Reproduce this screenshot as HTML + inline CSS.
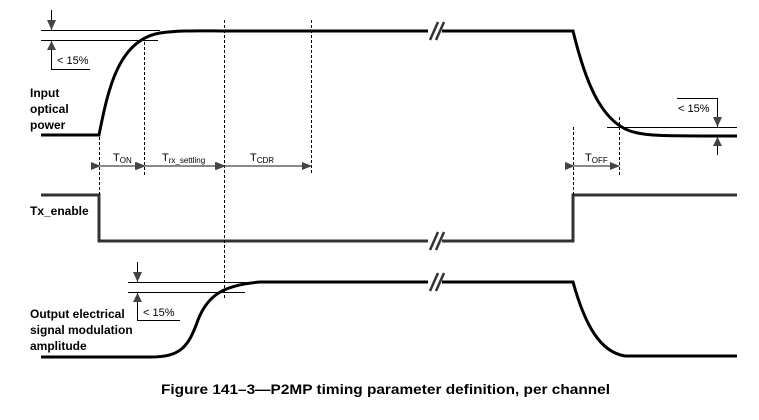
<!DOCTYPE html>
<html><head><meta charset="utf-8"><style>
html,body{margin:0;padding:0;background:#fff;}
svg{display:block;}
text{font-family:"Liberation Sans",Arial,sans-serif;}
</style></head><body>
<svg width="759" height="420" viewBox="0 0 759 420" xmlns="http://www.w3.org/2000/svg">
<defs>
<marker id="ah" markerWidth="10" markerHeight="8" refX="9" refY="4" orient="auto" markerUnits="userSpaceOnUse">
<path d="M0,0 L10,4 L0,8 Z" fill="#444"/></marker>
</defs>
<g fill="none" stroke="#000" stroke-width="3">
<path d="M41,135 L99,135 C108,90 118,40 160,33 C180,30 200,31 230,31 L428,31"/>
<path d="M442,31 L573,31 C585,80 600,120 630,131 C645,136 660,136 737,136"/>
<path d="M41,357 L150,357 C180,357 188,348 198,320 C208,294 225,285 260,282 L428,282"/>
<path d="M442,282 L573,282 C585,325 600,352 625,356 L737,356"/>
</g>
<g fill="none" stroke="#333" stroke-width="3">
<path d="M41,195 L99,195 L99,241 L428,241"/>
<path d="M442,241 L573,241 L573,195 L737,195"/>
</g>
<g stroke="#333" stroke-width="2.5">
<line x1="430" y1="40" x2="438" y2="22"/><line x1="436" y1="40" x2="444" y2="22"/>
<line x1="430" y1="250" x2="438" y2="232"/><line x1="436" y1="250" x2="444" y2="232"/>
<line x1="430" y1="291" x2="438" y2="273"/><line x1="436" y1="291" x2="444" y2="273"/>
</g>
<g stroke="#000" stroke-width="1" fill="none">
<line x1="41" y1="30.5" x2="160" y2="30.5"/>
<line x1="41" y1="40.5" x2="158" y2="40.5"/>
<path d="M51.5,40 L51.5,69.5 L90,69.5"/>
<line x1="607" y1="127.5" x2="737" y2="127.5"/>
<path d="M677,98.5 L717.5,98.5 L717.5,127"/>
<line x1="717.5" y1="137" x2="717.5" y2="155"/>
<line x1="128" y1="282.5" x2="270" y2="282.5"/>
<line x1="128" y1="292.5" x2="245" y2="292.5"/>
<path d="M137.5,292 L137.5,320.5 L180,320.5"/>
</g>
<g fill="#444">
<line x1="51.5" y1="10" x2="51.5" y2="30" stroke="#000" stroke-width="1"/>
<path d="M47,20 L56,20 L51.5,30 Z"/><path d="M47,50 L56,50 L51.5,41 Z"/>
<path d="M713,117 L722,117 L717.5,127 Z"/><path d="M713,146 L722,146 L717.5,137 Z"/>
<line x1="137.5" y1="262" x2="137.5" y2="282" stroke="#000" stroke-width="1"/>
<path d="M133,272 L142,272 L137.5,282 Z"/><path d="M133,302 L142,302 L137.5,293 Z"/>
</g>
<g stroke="#000" stroke-width="1" stroke-dasharray="3,2">
<line x1="99.5" y1="137" x2="99.5" y2="195"/>
<line x1="144.5" y1="42" x2="144.5" y2="175"/>
<line x1="224.5" y1="20" x2="224.5" y2="300"/>
<line x1="311.5" y1="20" x2="311.5" y2="175"/>
<line x1="573.5" y1="127" x2="573.5" y2="195"/>
<line x1="619.5" y1="117" x2="619.5" y2="175"/>
</g>
<g stroke="#444" stroke-width="1.2" marker-start="url(#ah)" marker-end="url(#ah)">
<line x1="100" y1="166" x2="144" y2="166"/>
<line x1="145" y1="166" x2="224" y2="166"/>
<line x1="225" y1="166" x2="311" y2="166"/>
<line x1="574" y1="166" x2="619" y2="166"/>
</g>
<g font-size="11" fill="#000">
<text x="113" y="161">T<tspan font-size="8" dy="2">ON</tspan></text>
<text x="162" y="161">T<tspan font-size="8" dy="2">rx_settling</tspan></text>
<text x="250" y="161">T<tspan font-size="8" dy="2">CDR</tspan></text>
<text x="585" y="161">T<tspan font-size="8" dy="2">OFF</tspan></text>
<text x="57" y="64">&lt; 15%</text>
<text x="678" y="112">&lt; 15%</text>
<text x="143" y="316">&lt; 15%</text>
</g>
<g font-size="12" font-weight="bold" fill="#000">
<text x="30" y="97">Input</text>
<text x="30" y="113">optical</text>
<text x="30" y="129">power</text>
<text x="30" y="215">Tx_enable</text>
<text x="30" y="318">Output electrical</text>
<text x="30" y="334">signal modulation</text>
<text x="30" y="350">amplitude</text>
</g>
<text x="161" y="394" font-size="14" font-weight="bold" textLength="449" lengthAdjust="spacingAndGlyphs">Figure 141–3—P2MP timing parameter definition, per channel</text>
</svg>
</body></html>
